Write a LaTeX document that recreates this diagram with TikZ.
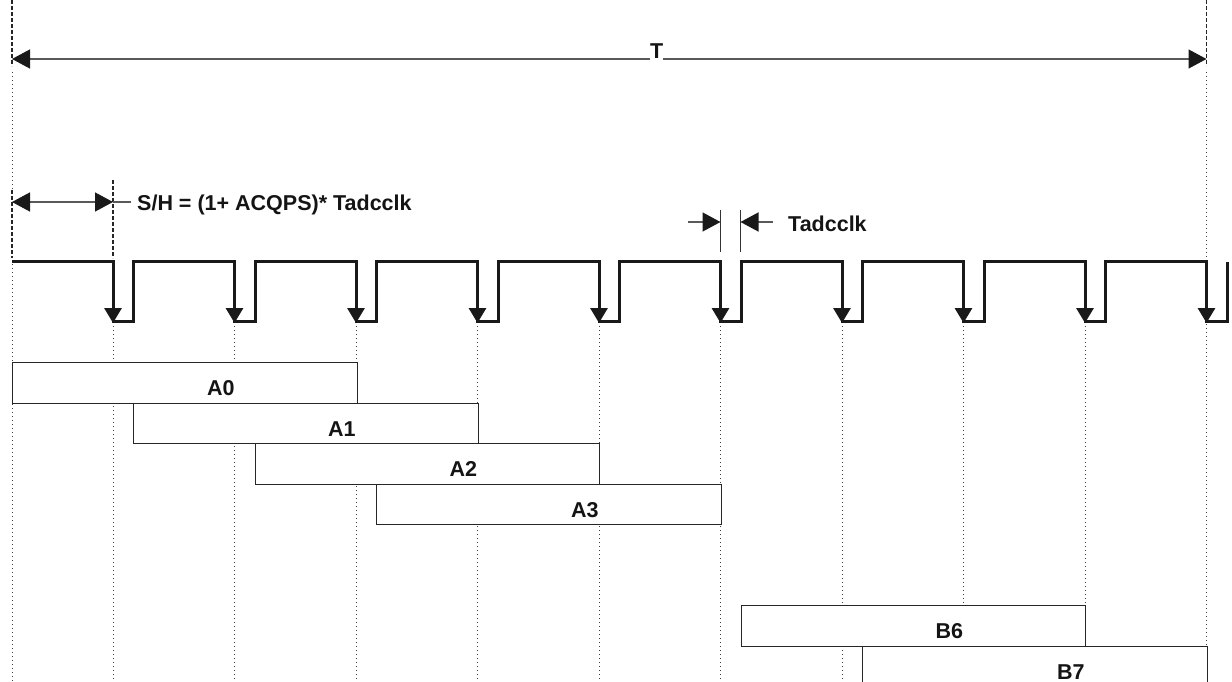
\documentclass[tikz,border=0pt]{standalone}
\usepackage{fontspec}
\setmainfont{Liberation Sans}
\usetikzlibrary{arrows.meta,calc}
\begin{document}
\begin{tikzpicture}[x=1pt,y=-1pt,
  lbl/.style={font=\fontsize{21.5}{25}\selectfont\bfseries, inner sep=0pt, text=black!92},
  slot/.style={draw=black!85, line width=1.2pt, fill=white, minimum width=344.5pt,
    minimum height=40.5pt, anchor=north west, inner sep=0pt},
  dotln/.style={draw=black!75, line width=1pt, dash pattern=on 1pt off 3pt},
  dashln/.style={draw=black!85, line width=1.1pt, dash pattern=on 4pt off 2pt},
  dim/.style={draw=black!65, line width=1.4pt},
  bigtip/.style={-{Triangle[length=18pt,width=19pt,fill=black!90,color=black!90]}},
  twotips/.style={{Triangle[length=18pt,width=19pt,fill=black!90,color=black!90]}-{Triangle[length=18pt,width=19pt,fill=black!90,color=black!90]}},
  clk/.style={line width=3pt, draw=black!90, line join=miter},
  clktip/.style={-{Triangle[length=15pt,width=17pt]}},
]
\useasboundingbox (0,0) rectangle (1232,682);

% ---- reference lines ----
\draw[dashln] (12,0) -- (12,66);
\draw[dotln] (12,72) -- (12,190);
\draw[dashln] (12,190) -- (12,258);
\draw[dotln] (12,264) -- (12,682);
\draw[dashln] (1206.5,0) -- (1206.5,66);
\draw[dotln] (1206.5,72) -- (1206.5,682);
\draw[dashln] (113,180) -- (113,258);
\foreach \k in {0,...,8}{
  \draw[dotln] ({113+121.5*\k},326) -- ({113+121.5*\k},682);
}

% ---- conversion slots ----
\node[slot] (A0) at (12,362) {};
\node[slot] (A1) at (133,402.5) {};
\node[slot] (A2) at (254.5,443) {};
\node[slot] (A3) at (376,483.5) {};
\node[slot] (B6) at (740.5,605) {};
\node[slot] (B7) at (862,645.5) {};
\foreach \b in {A0,A1,A2,A3,B6,B7}{
  \node[lbl, anchor=base] (\b lbl) at ($(\b.north)+(36,33.5)$) {\b};
}

% ---- clock ----
\draw[clk] (12,261.5)
  \foreach \k in {0,...,9}{
    -- ({113+121.5*\k},261.5) -- ({113+121.5*\k},321.5)
    -- ({133.5+121.5*\k},321.5) -- ({133.5+121.5*\k},261.5)
  };
\foreach \k in {0,...,9}{
  \draw[clk, clktip] ({113+121.5*\k},300) -- ({113+121.5*\k},323);
}

% ---- T dimension ----
\coordinate (TL) at (12,59);
\coordinate (TR) at (1206.5,59);
\draw[dim, twotips] (TL) -- (TR);
\node[lbl, anchor=base west, fill=white, inner ysep=2pt] (T) at (650,59) {T};

% ---- S/H dimension ----
\coordinate (SL) at (12,202);
\coordinate (SR) at (113,202);
\coordinate (SE) at (131,202);
\draw[dim, twotips] (SL) -- (SR);
\draw[dim] (SR) -- (SE);
\node[lbl, anchor=base west] (SH) at (137,211) {S/H = (1+ ACQPS)* Tadcclk};

% ---- Tadcclk dimension ----
\coordinate (Ka) at (720.5,210);
\coordinate (Kb) at (720.5,252);
\coordinate (Kc) at (740.5,210);
\coordinate (Kd) at (740.5,252);
\draw[line width=1.1pt, black!80] (Ka) -- (Kb);
\draw[line width=1.1pt, black!80] (Kc) -- (Kd);
\coordinate (KL) at (688,222);
\coordinate (KLe) at (720.5,222);
\coordinate (KR) at (773,222);
\coordinate (KRe) at (740.5,222);
\draw[dim, bigtip] (KL) -- (KLe);
\draw[dim, bigtip] (KR) -- (KRe);
\node[lbl, anchor=base west] (Tad) at (788,231) {Tadcclk};
\end{tikzpicture}
\end{document}
